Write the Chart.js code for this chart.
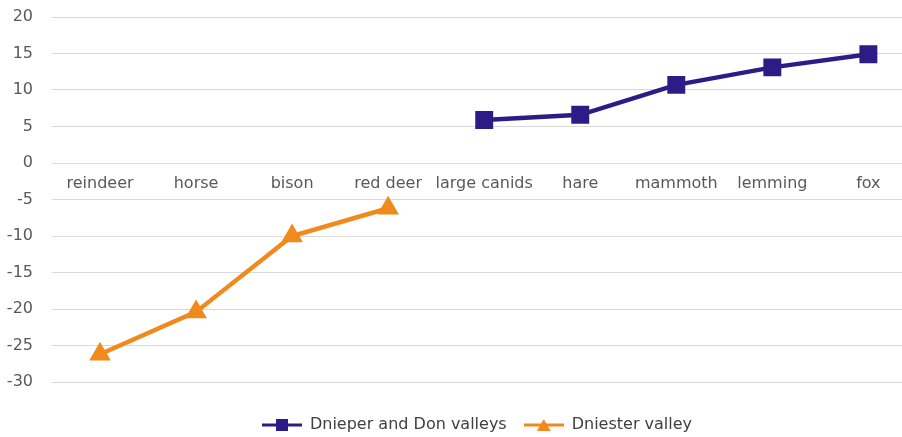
<!DOCTYPE html>
<html>
<head>
<meta charset="utf-8">
<script src="https://cdn.jsdelivr.net/npm/chart.js@4/dist/chart.umd.min.js"></script>
<style>
  html, body { margin: 0; padding: 0; background: #fff; overflow: hidden; }
  canvas { display: block; }
</style>
</head>
<body>
<canvas id="myChart" width="902" height="437"></canvas>
<script>
// data
const categories = ['reindeer', 'horse', 'bison', 'red deer', 'large canids', 'hare', 'mammoth', 'lemming', 'fox'];
const dnieperDon = [null, null, null, null, 5.9, 6.6, 10.7, 13.1, 14.9];
const dniester = [-26.2, -20.4, -10, -6.2, null, null, null, null, null];
const seriesNames = ['Dnieper and Don valleys', 'Dniester valley'];

const blue = '#2e1c86';
const orange = '#f08a1d';
const textGrey = '#595959';
const gridGrey = '#d9d9d9';
const fontName = 'DejaVu Sans';

// points on an index axis so the categories can sit where the picture has them
const toPoints = arr => arr.map((v, i) => ({ x: i, y: v }));

// little "line + marker" pictures for the legend
function legendIcon(color, shape) {
    const c = document.createElement('canvas');
    c.width = 40; c.height = 14;
    const g = c.getContext('2d');
    g.strokeStyle = color;
    g.lineWidth = 3;
    g.beginPath(); g.moveTo(0, 7); g.lineTo(40, 7); g.stroke();
    g.fillStyle = color;
    if (shape === 'rect') {
        g.fillRect(14, 1, 12, 12);
    } else {
        g.beginPath(); g.moveTo(20, 1); g.lineTo(27, 13); g.lineTo(13, 13); g.closePath(); g.fill();
    }
    return c;
}
const icons = [legendIcon(blue, 'rect'), legendIcon(orange, 'triangle')];

// category names are written just under the zero line
const zeroLabels = {
    id: 'zeroLabels',
    afterDraw(chart) {
        const x = chart.scales.x, y = chart.scales.y;
        const c = chart.ctx;
        const y0 = y.getPixelForValue(0);
        c.save();
        c.font = '16px "' + fontName + '"';
        c.fillStyle = textGrey;
        c.textAlign = 'center';
        c.textBaseline = 'middle';
        categories.forEach((name, i) => {
            c.fillText(name, x.getPixelForValue(i), y0 + 21);
        });
        c.restore();
    }
};

const ctx = document.getElementById('myChart').getContext('2d');
new Chart(ctx, {
    type: 'line',
    data: {
        datasets: [{
            label: seriesNames[0],
            data: toPoints(dnieperDon),
            borderColor: blue,
            backgroundColor: blue,
            borderWidth: 4.5,
            pointStyle: 'rect',
            pointRadius: 9.5,
            pointHoverRadius: 9.5
        }, {
            label: seriesNames[1],
            data: toPoints(dniester),
            borderColor: orange,
            backgroundColor: orange,
            borderWidth: 4.5,
            pointStyle: 'triangle',
            pointRadius: 8,
            pointHoverRadius: 8
        }]
    },
    options: {
        responsive: false,
        animation: false,
        layout: { autoPadding: false, padding: { top: 17, right: 0, bottom: -6, left: 0 } },
        scales: {
            x: {
                type: 'linear',
                min: -0.5,
                max: 8.35,
                display: false
            },
            y: {
                min: -30,
                max: 20,
                afterFit(scale) {
                    scale.width = 52;
                    scale.paddingTop = 0;
                    scale.paddingBottom = 0;
                },
                ticks: { stepSize: 5, color: textGrey, font: { family: fontName, size: 16 }, padding: 19 },
                grid: { color: gridGrey, lineWidth: 1, drawTicks: false },
                border: { display: false }
            }
        },
        plugins: {
            legend: {
                position: 'bottom',
                fullSize: false,
                // empty title only used as a spacer above the legend items
                title: { display: true, text: ' ', font: { size: 10 }, padding: 3 },
                labels: {
                    usePointStyle: true,
                    pointStyleWidth: 40,
                    boxHeight: 14,
                    color: '#404040',
                    font: { family: fontName, size: 16 },
                    padding: 17,
                    generateLabels(chart) {
                        return chart.data.datasets.map((ds, i) => ({
                            text: ds.label,
                            pointStyle: icons[i],
                            fillStyle: ds.borderColor,
                            strokeStyle: ds.borderColor,
                            lineWidth: 0,
                            fontColor: '#404040',
                            datasetIndex: i
                        }));
                    }
                }
            },
            tooltip: { enabled: false }
        }
    },
    plugins: [zeroLabels]
});
</script>
</body>
</html>
